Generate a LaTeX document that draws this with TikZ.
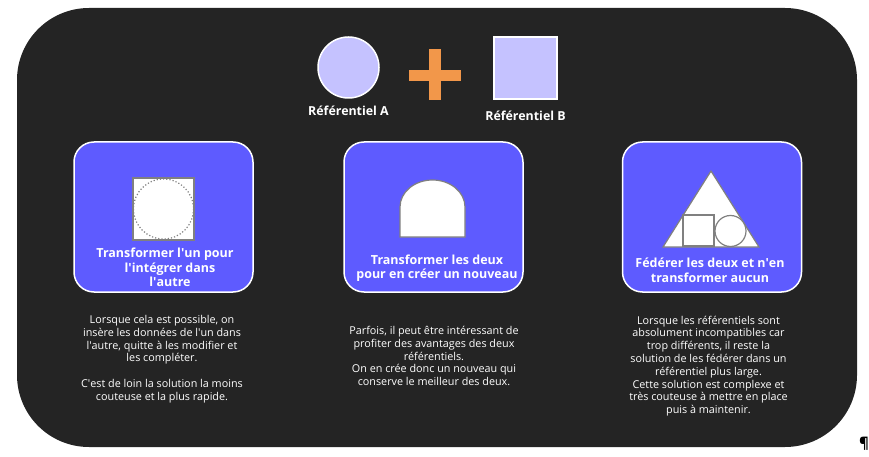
\documentclass[tikz,border=0pt]{standalone}
\usepackage{fontspec}
\setmainfont{Open Sans}
\definecolor{bgdark}{RGB}{36,36,36}
\definecolor{boxblue}{RGB}{94,91,255}
\definecolor{lav}{RGB}{197,194,255}
\definecolor{plusorange}{RGB}{242,151,74}
\definecolor{icongray}{RGB}{128,128,128}
\newcommand{\ap}{\textquotesingle}
\tikzset{
  card/.style={draw=white, line width=1.5pt, fill=boxblue, rounded corners=20pt, minimum width=179pt, minimum height=150pt, inner sep=0pt},
  cardtitle/.style={text=white, font=\fontsize{12.5}{14.5}\selectfont\bfseries, align=center, inner sep=0pt},
  bodytext/.style={text=white, font=\fontsize{10.8}{12.8}\selectfont, align=center, inner sep=0pt},
  reflabel/.style={text=white, font=\fontsize{12.4}{14}\selectfont\bfseries, inner sep=0pt},
  icon/.style={draw=icongray, line width=1.2pt, fill=white}
}
\begin{document}
\begin{tikzpicture}[x=1pt,y=-1pt]
\useasboundingbox (0,0) rectangle (869,457);
% background
\fill[bgdark, rounded corners=72pt] (17,8) rectangle (857,447);
% top row
\node[circle, draw=white, line width=1.5pt, fill=lav, minimum size=61pt, inner sep=0pt] (refA) at (348.5,67.5) {};
\node[rectangle, draw=white, line width=1.5pt, fill=lav, minimum width=63pt, minimum height=62pt, inner sep=0pt] (refB) at (525.5,68) {};
\node[reflabel] (labA) at (348.5,111) {Référentiel A};
\node[reflabel] (labB) at (525.5,116) {Référentiel B};
\fill[plusorange] (409,70) rectangle (461,81);
\fill[plusorange] (429,49) rectangle (441,100);
% cards
\node[card] (c1) at (163.5,217) {};
\node[card] (c2) at (433.5,217) {};
\node[card] (c3) at (712,217) {};
% icon 1
\draw[icon] (133,178) rectangle (194,240);
\draw[icongray, line width=1.2pt, dotted] (163.5,209) circle[radius=30];
% icon 2
\draw[icon] (400,237) -- (400,207) arc[start angle=180, end angle=360, x radius=32.5, y radius=27] -- (465,237) -- cycle;
% icon 3
\draw[icon] (711,171) -- (759,247) -- (663,247) -- cycle;
\draw[icon] (683,215) rectangle (714,246);
\draw[icon] (730.5,231) circle[radius=15.5];
% card titles
\node[cardtitle] (t1) at (170,267.5) {Transformer l\ap un pour\hspace*{10pt}\\l\ap intégrer dans\\l\ap autre};
\node[cardtitle] (t2) at (437,268) {Transformer les deux\\pour en créer un nouveau};
\node[cardtitle] (t3) at (710,270.5) {Fédérer les deux et n\ap en\\transformer aucun};
% body texts
\node[bodytext] (b1) at (162,359) {Lorsque cela est possible, on\\insère les données de l\ap un dans\\l\ap autre, quitte à les modifier et\\les compléter.\\[12.8pt]C\ap est de loin la solution la moins\\couteuse et la plus rapide.};
\node[bodytext] (b2) at (434,356) {Parfois, il peut être intéressant de\\profiter des avantages des deux\\référentiels.\\On en crée donc un nouveau qui\\conserve le meilleur des deux.};
\node[bodytext] (b3) at (708.5,366) {Lorsque les référentiels sont\\absolument incompatibles car\\trop différents, il reste la\\solution de les fédérer dans un\\référentiel plus large.\\Cette solution est complexe et\\très couteuse à mettre en place\\puis à maintenir.};
\node[text=black, font=\fontsize{15}{16}\selectfont\bfseries, inner sep=0pt] (pil) at (864,444) {¶};
\end{tikzpicture}
\end{document}
